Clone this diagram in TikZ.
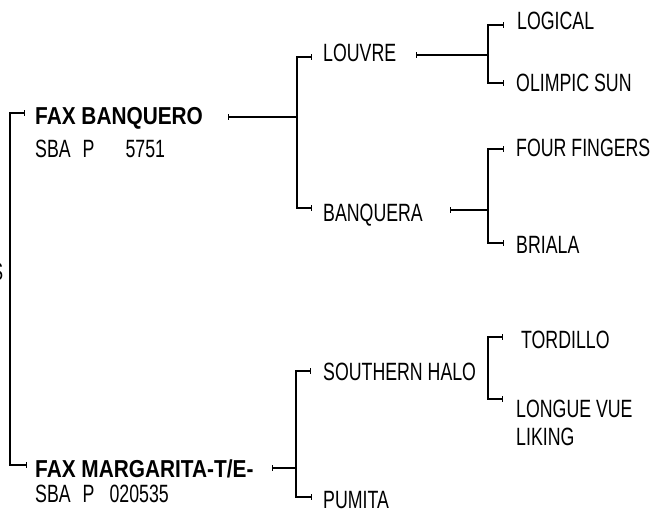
\documentclass[tikz,border=0pt]{standalone}
\usepackage{fontspec}
\setmainfont[FakeStretch=0.71,BoldFeatures={FakeStretch=0.85}]{Liberation Sans}
\usetikzlibrary{arrows.meta}
\begin{document}
\begin{tikzpicture}[x=1pt,y=-1pt,
  lbl/.style={anchor=base west,inner sep=0pt,font=\fontsize{25}{28}\selectfont},
  blbl/.style={anchor=base west,inner sep=0pt,font=\fontsize{24.5}{28}\selectfont\bfseries},
  conn/.style={line width=1.3pt,black},
  tk/.tip={Bar[width=5.5pt,line width=1.3pt]}]
\useasboundingbox (0,0) rectangle (659,511);
% texts
\node[lbl,anchor=base east] (rootlbl) at (3.5,280) {S};
\node[blbl] (fb) at (35,124.5) {FAX BANQUERO};
\node[lbl] (fbid) at (35,157) {SBA\hspace{12pt}P\hspace{31pt}5751};
\node[lbl] (louvre) at (323,62) {LOUVRE};
\node[lbl] (logical) at (517,30) {LOGICAL};
\node[lbl] (olimpic) at (516,92) {OLIMPIC SUN};
\node[lbl] (banquera) at (323,221) {BANQUERA};
\node[lbl] (four) at (516,156) {FOUR FINGERS};
\node[lbl] (briala) at (516,253) {BRIALA};
\node[blbl] (fm) at (35,477.5) {FAX MARGARITA-T/E-};
\node[lbl] (fmid) at (35,502) {SBA\hspace{12pt}P\hspace{15pt}020535};
\node[lbl] (southern) at (323,380) {SOUTHERN HALO};
\node[lbl] (tordillo) at (516,348) {\ TORDILLO};
\node[lbl,align=left] (longue) at (516,445) {LONGUE VUE\\LIKING};
\node[lbl] (pumita) at (323,508.5) {PUMITA};
% connector points
\coordinate (fbT) at (25,113);
\coordinate (fmT) at (27,465);
\coordinate (rootJ) at (10,290);
\coordinate (fbS) at (228,117);
\coordinate (j1) at (297,117);
\coordinate (louvreT) at (312,57);
\coordinate (banqueraT) at (312,208);
\coordinate (louvreS) at (416,55);
\coordinate (j2) at (488,55);
\coordinate (logicalT) at (504,25);
\coordinate (olimpicT) at (504,83);
\coordinate (banqueraS) at (450,210);
\coordinate (j3) at (488,210);
\coordinate (fourT) at (504,149);
\coordinate (brialaT) at (504,243);
\coordinate (fmS) at (272,468);
\coordinate (j4) at (296,468);
\coordinate (southernT) at (311,371);
\coordinate (pumitaT) at (312,497);
\coordinate (j5) at (488,368);
\coordinate (tordilloT) at (503,337);
\coordinate (longueT) at (503,399);
% connectors
\draw[conn,tk-tk] (fbT) -| (rootJ) |- (fmT);
\draw[conn,tk-] (fbS) -- (j1);
\draw[conn,tk-tk] (louvreT) -| (j1) |- (banqueraT);
\draw[conn,tk-] (louvreS) -- (j2);
\draw[conn,tk-tk] (logicalT) -| (j2) |- (olimpicT);
\draw[conn,tk-] (banqueraS) -- (j3);
\draw[conn,tk-tk] (fourT) -| (j3) |- (brialaT);
\draw[conn,tk-] (fmS) -- (j4);
\draw[conn,tk-tk] (southernT) -| (j4) |- (pumitaT);
\draw[conn,tk-tk] (tordilloT) -| (j5) |- (longueT);
\end{tikzpicture}
\end{document}
